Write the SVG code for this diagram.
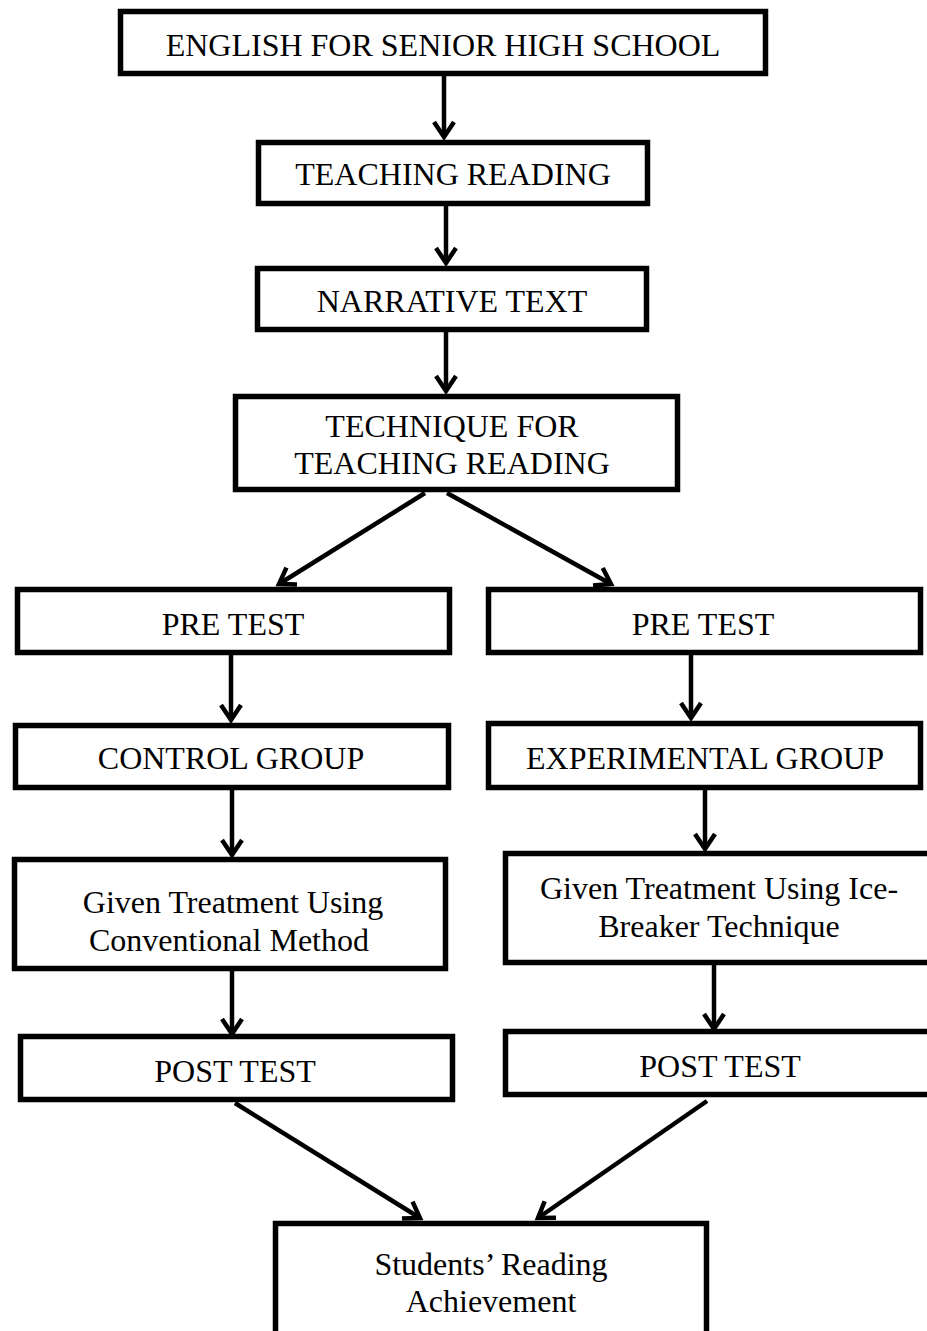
<svg xmlns="http://www.w3.org/2000/svg" width="927" height="1331" viewBox="0 0 927 1331">
<style>
.box{fill:#fff;stroke:#000;stroke-width:5.5}
.t{font-family:"Liberation Serif","Times New Roman",serif;font-size:32px;fill:#000;text-anchor:middle}
.c{stroke:#000;stroke-width:4.5;fill:none;marker-end:url(#ah)}
</style>
<defs>
<marker id="ah" markerUnits="userSpaceOnUse" markerWidth="34" markerHeight="34" viewBox="-17 -17 34 34" refX="0" refY="0" orient="auto" overflow="visible">
<path d="M-15,-10 L0,0 L-15,10" fill="none" stroke="#000" stroke-width="4.5"/>
</marker>
</defs>
<rect width="927" height="1331" fill="#fff"/>
<g id="connectors">
<line class="c" x1="444" y1="76" x2="444" y2="137"/>
<line class="c" x1="446" y1="206" x2="446" y2="263"/>
<line class="c" x1="446" y1="332" x2="446" y2="391"/>
<line class="c" x1="425" y1="493" x2="279" y2="584"/>
<line class="c" x1="447" y1="493" x2="611" y2="584"/>
<line class="c" x1="231" y1="655" x2="231" y2="720"/>
<line class="c" x1="691" y1="655" x2="691" y2="718"/>
<line class="c" x1="232" y1="790" x2="232" y2="855"/>
<line class="c" x1="705" y1="790" x2="705" y2="849"/>
<line class="c" x1="232" y1="971" x2="232" y2="1034"/>
<line class="c" x1="714" y1="965" x2="714" y2="1029"/>
<line class="c" x1="235" y1="1103" x2="420" y2="1218"/>
<line class="c" x1="707" y1="1101" x2="538" y2="1218"/>
</g>
<g id="n1"><rect class="box" x="120.5" y="11.5" width="645" height="62"/><text class="t" x="443" y="56">ENGLISH FOR SENIOR HIGH SCHOOL</text></g>
<g id="n2"><rect class="box" x="258.5" y="142.5" width="389" height="61"/><text class="t" x="453" y="185">TEACHING READING</text></g>
<g id="n3"><rect class="box" x="257.5" y="268.5" width="389" height="61"/><text class="t" x="452" y="312">NARRATIVE TEXT</text></g>
<g id="n4"><rect class="box" x="235.5" y="396.5" width="442" height="93"/><text class="t" x="452" y="437">TECHNIQUE FOR</text><text class="t" x="452" y="474">TEACHING READING</text></g>
<g id="n5"><rect class="box" x="17.5" y="589.5" width="432" height="63"/><text class="t" x="233" y="635">PRE TEST</text></g>
<g id="n6"><rect class="box" x="488.5" y="589.5" width="432" height="63"/><text class="t" x="703" y="635">PRE TEST</text></g>
<g id="n7"><rect class="box" x="15.5" y="725.5" width="433" height="62"/><text class="t" x="231" y="769">CONTROL GROUP</text></g>
<g id="n8"><rect class="box" x="488.5" y="723.5" width="432" height="64"/><text class="t" x="705" y="769">EXPERIMENTAL GROUP</text></g>
<g id="n9"><rect class="box" x="14.5" y="859.5" width="431" height="109"/><text class="t" x="233" y="913">Given Treatment Using</text><text class="t" x="229" y="951">Conventional Method</text></g>
<g id="n10"><rect class="box" x="505.5" y="853.5" width="430" height="109"/><text class="t" x="719" y="899">Given Treatment Using Ice-</text><text class="t" x="719" y="937">Breaker Technique</text></g>
<g id="n11"><rect class="box" x="20.5" y="1036.5" width="432" height="63"/><text class="t" x="235" y="1082">POST TEST</text></g>
<g id="n12"><rect class="box" x="505.5" y="1031.5" width="430" height="63"/><text class="t" x="720" y="1077">POST TEST</text></g>
<g id="n13"><rect class="box" x="275.5" y="1223.5" width="431" height="120"/><text class="t" x="491" y="1275">Students’ Reading</text><text class="t" x="491" y="1312">Achievement</text></g>
</svg>
